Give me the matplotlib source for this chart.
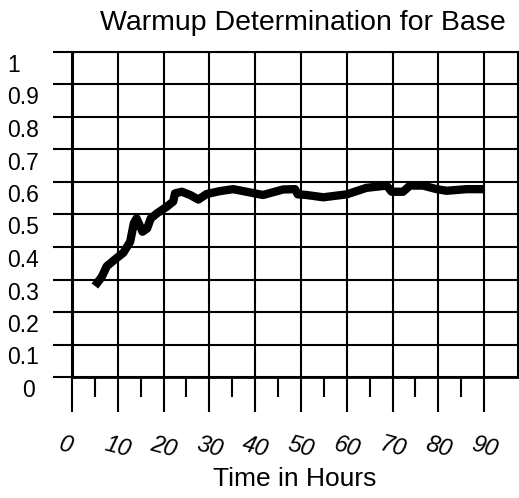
import numpy as np
import matplotlib.pyplot as plt
import matplotlib.transforms as mtransforms

# values
hours = [5.0, 6.5, 7.6, 9.4, 11.2, 12.7, 13.5, 14.1, 15.4, 16.4, 17.2, 18.5, 20.7,
         22.1, 22.5, 24.0, 25.8, 27.6, 29.4, 32.3, 35.2, 38.1, 41.7, 46.1, 48.7,
         49.3, 51.2, 54.9, 60.0, 64.3, 68.7, 69.8, 72.3, 73.8, 76.7, 79.6, 81.8,
         86.2, 90.2]
warmup = [0.280, 0.308, 0.341, 0.362, 0.382, 0.416, 0.473, 0.488, 0.447, 0.457,
          0.488, 0.503, 0.524, 0.540, 0.565, 0.570, 0.560, 0.546, 0.563, 0.572,
          0.578, 0.570, 0.560, 0.577, 0.578, 0.562, 0.560, 0.553, 0.562, 0.582,
          0.589, 0.570, 0.570, 0.589, 0.589, 0.578, 0.573, 0.578, 0.578]
x_major = [0, 10, 20, 30, 40, 50, 60, 70, 80, 90]
x_minor = [5, 15, 25, 35, 45, 55, 65, 75, 85]
y_ticks = [0, 0.1, 0.2, 0.3, 0.4, 0.5, 0.6, 0.7, 0.8, 0.9, 1.0]
y_labels = ['0', '0.1', '0.2', '0.3', '0.4', '0.5', '0.6', '0.7', '0.8', '0.9', '1']

plt.rcParams['font.family'] = ['Liberation Sans', 'DejaVu Sans']

fig = plt.figure(figsize=(5.19, 4.98), dpi=100)
ax = fig.add_axes([72 / 519, 121 / 498, 446 / 519, 325 / 498])

ax.plot(hours, warmup, color='black', lw=6, solid_capstyle='butt', solid_joinstyle='round', zorder=3)

ax.set_xlim(0, 97.4)
ax.set_ylim(0, 1)

ax.set_xticks(x_major)
ax.set_xticks(x_minor, minor=True)
ax.set_xticklabels([str(v) for v in x_major], fontstyle='italic', fontsize=17, rotation=-15)
ax.set_yticks(y_ticks)
ax.set_yticklabels(y_labels, fontsize=16.5)

ax.grid(True, which='major', color='black', lw=1.5)
ax.tick_params(axis='x', which='major', direction='out', length=25, width=1.5, pad=15)
ax.tick_params(axis='x', which='minor', direction='out', length=14.5, width=1.5)
ax.tick_params(axis='y', which='major', direction='out', length=13.7, width=1.5, pad=33)

# labels sit a little below their grid lines, left aligned ("0" a bit further right)
for lab in ax.get_yticklabels():
    dx = 15 / 100 if lab.get_text() == '0' else 0
    offset = mtransforms.ScaledTranslation(dx, -11 / 100, fig.dpi_scale_trans)
    lab.set_horizontalalignment('left')
    lab.set_transform(lab.get_transform() + offset)

# the "0" hour label sits left of the axis in the original
for lab in ax.get_xticklabels():
    if lab.get_text() == '0':
        lab.set_transform(lab.get_transform() + mtransforms.ScaledTranslation(-6 / 100, 0, fig.dpi_scale_trans))

for side in ['left', 'right', 'bottom', 'top']:
    ax.spines[side].set_linewidth(1.5)
    ax.spines[side].set_color('black')
ax.spines['left'].set_linewidth(2.2)
ax.spines['bottom'].set_linewidth(2)

ax.set_title('Warmup Determination for Base', fontsize=20.5, pad=16, x=0.517)
ax.set_xlabel('Time in Hours', fontsize=19, labelpad=4)

fig.savefig('out.png', dpi=100)
